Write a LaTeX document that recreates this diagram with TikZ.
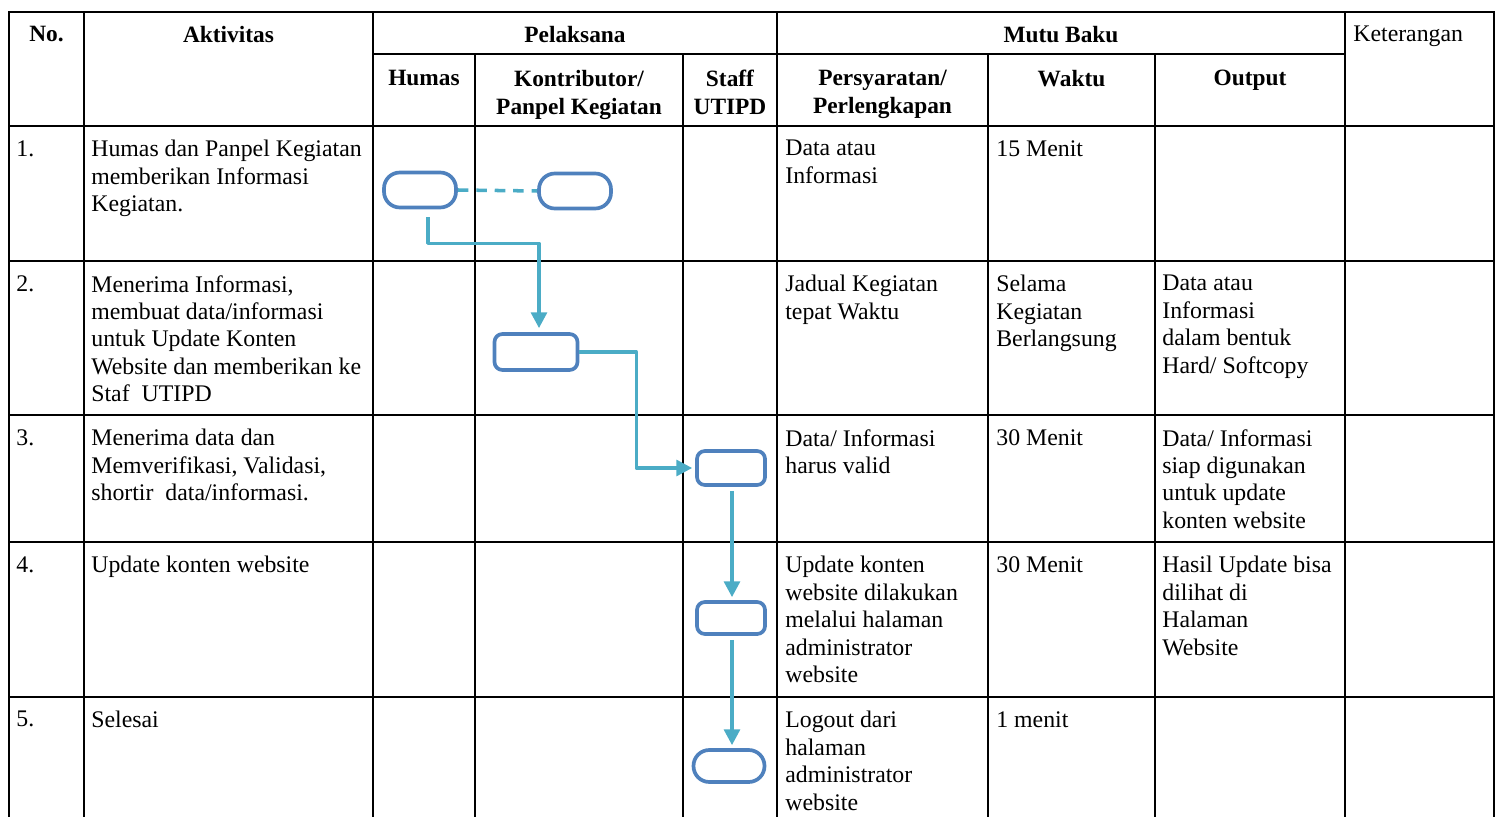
\documentclass[tikz,border=0pt]{standalone}
\usepackage{fontspec}
\setmainfont{Liberation Serif}
\usetikzlibrary{arrows.meta,calc}
\definecolor{boxblue}{RGB}{79,129,189}
\definecolor{flowcyan}{RGB}{75,172,198}

\begin{document}
\begin{tikzpicture}[x=0.02cm,y=-0.02cm,line join=round,
  rule/.style={line width=1.1pt,black,line cap=rect},
  cell/.style={anchor=north west,align=left,inner sep=0pt,font=\fontsize{13.55}{15.6}\selectfont},
  head/.style={anchor=north,align=center,inner sep=0pt,font=\fontsize{13.3}{15.9}\selectfont\bfseries},
  terminal/.style={draw=boxblue,line width=2.1pt,rounded corners=9pt,minimum width=1.44cm,minimum height=0.70cm,inner sep=0pt},
  process/.style={draw=boxblue,line width=2.1pt,rounded corners=4.5pt,inner sep=0pt},
  flow/.style={draw=flowcyan,line width=2pt,-{Triangle[length=9pt,width=9pt]}}]
\useasboundingbox (0,0) rectangle (1500,817);
\draw[rule] (9,12) -- (1494,12);
\draw[rule] (373,54) -- (1345,54);
\foreach \y in {126,261,415,542,697} \draw[rule] (9,\y) -- (1494,\y);
\foreach \x in {9,84,373,777,1345,1494} \draw[rule] (\x,12) -- (\x,817);
\foreach \x in {475,683,988,1155} \draw[rule] (\x,54) -- (\x,817);
\node[head] (hno) at (46.5,25.5) {No.};
\node[head] (hakt) at (228.5,25.5) {Aktivitas};
\node[head] (hpel) at (575,25.5) {Pelaksana};
\node[head] (hmutu) at (1061,25.5) {Mutu Baku};
\node[cell] (hket) at (1353,26) {Keterangan};
\node[head] (hhumas) at (424,70) {Humas};
\node[head] (hkontrib) at (579,70) {Kontributor/\\Panpel Kegiatan};
\node[head] (hstaff) at (730,70) {Staff\\UTIPD};
\node[head] (hsyarat) at (882.5,70) {Persyaratan/\\Perlengkapan};
\node[head] (hwaktu) at (1071.5,70) {Waktu};
\node[head] (houtput) at (1250,70) {Output};
\node[cell] (r1no) at (16,140) {1.};
\node[cell] (r1akt) at (91,140) {Humas dan Panpel Kegiatan\\memberikan Informasi\\Kegiatan.};
\node[cell] (r1syarat) at (785,140) {Data atau\\Informasi};
\node[cell] (r1waktu) at (996,140) {15 Menit};
\node[cell] (r2no) at (16,275) {2.};
\node[cell] (r2akt) at (91,275) {Menerima Informasi,\\membuat data/informasi\\untuk Update Konten\\Website dan memberikan ke\\Staf\ \ UTIPD};
\node[cell] (r2syarat) at (785,275) {Jadual Kegiatan\\tepat Waktu};
\node[cell] (r2waktu) at (996,275) {Selama\\Kegiatan\\Berlangsung};
\node[cell] (r2out) at (1162,275) {Data atau\\Informasi\\dalam bentuk\\Hard/ Softcopy};
\node[cell] (r3no) at (16,429) {3.};
\node[cell] (r3akt) at (91,429) {Menerima data dan\\Memverifikasi, Validasi,\\shortir\ \ data/informasi.};
\node[cell] (r3syarat) at (785,429) {Data/ Informasi\\harus valid};
\node[cell] (r3waktu) at (996,429) {30 Menit};
\node[cell] (r3out) at (1162,429) {Data/ Informasi\\siap digunakan\\untuk update\\konten website};
\node[cell] (r4no) at (16,556) {4.};
\node[cell] (r4akt) at (91,556) {Update konten website};
\node[cell] (r4syarat) at (785,556) {Update konten\\website dilakukan\\melalui halaman\\administrator\\website};
\node[cell] (r4waktu) at (996,556) {30 Menit};
\node[cell] (r4out) at (1162,556) {Hasil Update bisa\\dilihat di\\Halaman\\Website};
\node[cell] (r5no) at (16,711) {5.};
\node[cell] (r5akt) at (91,711) {Selesai};
\node[cell] (r5syarat) at (785,711) {Logout dari\\halaman\\administrator\\website};
\node[cell] (r5waktu) at (996,711) {1 menit};
\node[terminal] (start) at (420,190) {};
\node[terminal] (contrib) at (575,191) {};
\node[process,minimum width=1.66cm,minimum height=0.72cm] (prep) at (536,352) {};
\node[process,minimum width=1.36cm,minimum height=0.68cm] (verify) at (731,468) {};
\node[process,minimum width=1.36cm,minimum height=0.64cm] (update) at (731,618) {};
\node[terminal,minimum width=1.42cm,minimum height=0.64cm] (finish) at (729,766) {};
\draw[flowcyan,line width=2pt,dash pattern=on 6pt off 4.5pt] (start.east) -- (contrib.west);
\draw[flow] ([shift={(8,8)}]start.south) -- ++(0,26) -| ([shift={(3,-4)}]prep.north);
\draw[flow] (prep.east) -- ++(57,0) |- ([shift={(-3,0)}]verify.west);
\draw[flow] ([shift={(1,4)}]verify.south) -- ([shift={(1,-3)}]update.north);
\draw[flow] ([shift={(1,4)}]update.south) -- ($(update.south |- finish.north)+(1,-3)$);
\end{tikzpicture}
\end{document}
